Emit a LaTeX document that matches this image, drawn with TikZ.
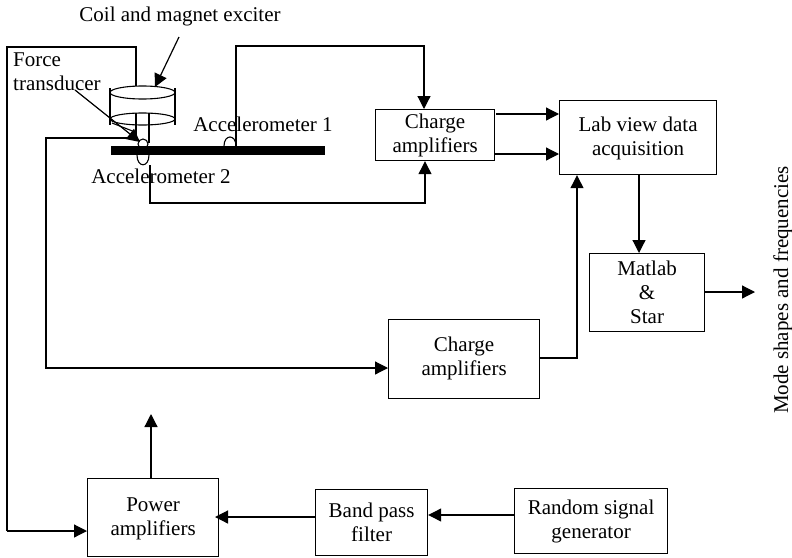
\documentclass[tikz,border=0pt]{standalone}
\usepackage{fontspec}
\setmainfont{Liberation Serif}
\usetikzlibrary{arrows.meta}
\tikzset{
  x=1pt,y=-1pt,
  blockbox/.style={draw,line width=1.2pt,align=center,anchor=north west,inner sep=0pt,font=\fontsize{21}{24}\selectfont},
  lbl/.style={inner sep=0pt,font=\fontsize{21}{24}\selectfont},
  conn/.style={line width=1.2pt},
  arr/.style={line width=1.2pt,-{Triangle[length=13pt,width=13pt]}},
  part/.style={line width=1.1pt}
}
\begin{document}
\begin{tikzpicture}
\useasboundingbox (0,0) rectangle (792,557);
\node[blockbox,minimum width=119pt,minimum height=51pt] (c1) at (375,109) {Charge\\amplifiers};
\node[blockbox,minimum width=157pt,minimum height=74pt] (lab) at (559,100) {Lab view data\\acquisition\\[-22pt]\mbox{}};
\node[blockbox,minimum width=115pt,minimum height=78pt] (mat) at (589,253) {Matlab\\\&\\Star};
\node[blockbox,minimum width=151pt,minimum height=79pt] (c2) at (388,319) {Charge\\amplifiers\\[-18pt]\mbox{}};
\node[blockbox,minimum width=131pt,minimum height=78pt] (pow) at (87,478) {Power\\amplifiers\\[-22pt]\mbox{}};
\node[blockbox,minimum width=112pt,minimum height=66pt] (band) at (315,489) {Band pass\\filter};
\node[blockbox,minimum width=153pt,minimum height=65pt] (rnd) at (514,488) {Random signal\\generator};
% labels
\node[lbl] (coil) at (180,16) {Coil and magnet exciter};
\node[lbl,align=left,anchor=north west] (force) at (13,53) {Force\\transducer};
\node[lbl] (a1) at (263,124) {Accelerometer 1};
\node[lbl] (a2) at (161,176) {Accelerometer 2};
\node[lbl,rotate=90] (modes) at (783,290) {Mode shapes and frequencies};
% exciter
\draw[part] (110,88) -- (110,125) (175,88) -- (175,125);
\draw[part] (142.5,92.5) ellipse (32.5 and 6.5);
\draw[part] (142.5,119) ellipse (32.5 and 6);
\draw[part] (136,113) -- (136,140) (149,113) -- (149,143);
\draw[part] (112,123) -- (135,132);
% beam
\fill (111,146) rectangle (325,155);
% sensors
\draw[part] (143,144) circle (5);
\draw[part] (137,155) .. controls (137,168) and (149,168) .. (149,155);
\draw[part] (224,146) .. controls (224,134) and (236,134) .. (236,146);
% pointers
\coordinate (fe) at (140,142);
\coordinate (ce) at (155,87);
\coordinate (cs) at (179,37);
\coordinate (fs) at (75,90);
\draw[arr] (cs) -- (ce);
\draw[arr] (fs) -- (fe);
% wires
\coordinate (w1) at (136,86);
\coordinate (w2) at (236,146);
\coordinate (w3) at (150,165);
\coordinate (w4) at (136,138);
\coordinate (pu) at (151,414);
\coordinate (out) at (755,292);
\draw[conn] (w1) |- (7,47) -- (7,531);
\draw[arr] (7,531) -- (pow.west |- 0,531);
\draw[arr] (w2) |- (424,46) -- (c1.north -| 424,0);
\draw[arr] (w3) |- (425,203) -- (c1.south -| 425,0);
\draw[arr] (w4) -| (46,368) -- (c2.west |- 0,368);
\draw[arr] (c2.east |- 0,358) -| (lab.south -| 577,0);
\draw[arr] (496,114) -- (lab.west |- 0,114);
\draw[arr] (c1.east |- 0,154) -- (lab.west |- 0,154);
\draw[arr] (lab.south -| 639,0) -- (mat.north -| 639,0);
\draw[arr] (mat.east |- out) -- (out);
\draw[arr] (pow.north -| pu) -- (pu);
\draw[arr] (band.west |- 0,517) -- (215,517);
\draw[arr] (rnd.west |- 0,515) -- (band.east |- 0,515);
\end{tikzpicture}
\end{document}
